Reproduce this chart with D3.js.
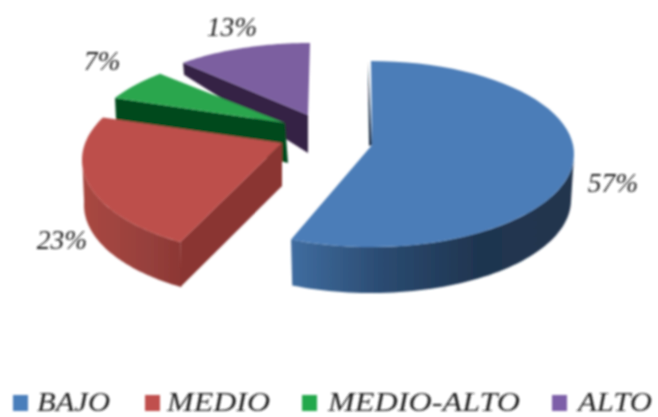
<!DOCTYPE html>
<html><head><meta charset="utf-8">
<script src="https://cdn.jsdelivr.net/npm/d3@7"></script>
<style>html,body{margin:0;padding:0;background:#fff}svg{display:block}
text{font-family:"Liberation Serif",serif;font-style:italic;fill:#1f1f1f}</style>
</head><body><div id="c"></div>
<script>
const categories = ["BAJO","MEDIO","MEDIO-ALTO","ALTO"];
const values = [57,23,7,13];
const tickLabels = ["57%","23%","7%","13%"];

const W=658,H=417;
const rad=d=>d*Math.PI/180;
// projection of each exploded slice; d0/d1 = perspective correction of the slice's rim angles
const geo=[
 {cx:371,cy:154,rx:203,ry:93,ax:372,ay:145,d0:0,d1:-2,depth:46,apexDepth:0,top:"#4b7db8",wallStops:["#3f6c9f","#2a4a70","#1f3550","#22344e"],inner:"#1d2f47"},
 {cx:280,cy:160,rx:198,ry:95,ax:282,ay:143,d0:5,d1:8.6,depth:45,apexDepth:43,top:"#bd4f4b",wallStops:["#a8473f","#a0443f","#96403c","#8c3633"],inner:"#8a3432"},
 {cx:285,cy:148,rx:200,ry:95,ax:285,ay:123,d0:13.8,d1:8.1,depth:22,apexDepth:40,top:"#29a64e",inner:"#034a1e"},
 {cx:310,cy:130,rx:200,ry:87,ax:308,ay:115,d0:7.4,d1:0,depth:12,apexDepth:38,top:"#7b5fa0",inner:"#352344"}
];
const swatch=["#4a7ebb","#c0504d","#22a84c","#7d5fa8"];
const legendX=[13,145,302,552], legendTextX=[37,167,328,578], legendLen=[73,103,192,74];
const labelPos=[[613,192],[62,249],[102,70],[232,36]];

const arcs=d3.pie().sort(null).startAngle(0).endAngle(2*Math.PI)(values);
const svg=d3.select("#c").append("svg").attr("width",W).attr("height",H);
const defs=svg.append("defs");
defs.append("filter").attr("id","soft").attr("x","-5%").attr("y","-5%").attr("width","110%").attr("height","110%")
  .append("feGaussianBlur").attr("stdDeviation",0.85);
const root=svg.append("g").attr("filter","url(#soft)");
const line=d3.line();

function rim(g,a0,a1,off,shrink){
  const n=60;
  return d3.range(n+1).map(i=>{
    const t=a0+(a1-a0)*i/n;
    return [g.cx+(g.rx-(shrink||0))*Math.sin(t), g.cy+off-g.ry*Math.cos(t)];
  });
}
[3,2,1,0].forEach(i=>{
  const g=geo[i],a=arcs[i];
  const start=a.startAngle+rad(g.d0), end=a.endAngle+rad(g.d1);
  const top=rim(g,start,end,0);
  const grp=root.append("g");
  const p=top[0];
  if(i===0){
    grp.append("path").attr("fill",g.inner).attr("d",line([[p[0]-3,p[1]+1],[g.ax,g.ay],[g.ax-3,g.ay+1]])+"Z");
  }else if(i===1){
    grp.append("path").attr("fill",g.inner).attr("d",line([[g.ax,g.ay],p,[p[0],p[1]+g.depth],[g.ax,g.ay+g.apexDepth]])+"Z");
  }else{
    grp.append("path").attr("fill",g.inner).attr("d",line([p,[g.ax,g.ay],[g.ax+(i===2?3:0),g.ay+g.apexDepth-(i===2?0:0)],[p[0]+1,p[1]+g.depth]])+"Z");
  }
  if(i<2){
    const s=i===0?rad(92):start, e=i===0?end:rad(272);
    const up=rim(g,s,e,0), low=rim(g,s,e,g.depth,i===0?3:2);
    const id="w"+i;
    const lg=defs.append("linearGradient").attr("id",id).attr("gradientUnits","userSpaceOnUse")
      .attr("x1",low[low.length-1][0]).attr("x2",low[0][0]).attr("y1",0).attr("y2",0);
    g.wallStops.forEach((c,k)=>lg.append("stop").attr("offset",k/(g.wallStops.length-1)).attr("stop-color",c));
    grp.append("path").attr("fill",`url(#${id})`).attr("d",line(up.concat(low.reverse()))+"Z");
  }
  grp.append("path").attr("fill",g.top).attr("d",line([[g.ax,g.ay]].concat(top))+"Z");
});
tickLabels.forEach((t,i)=>root.append("text").attr("x",labelPos[i][0]).attr("y",labelPos[i][1])
  .attr("text-anchor","middle").attr("font-size",27.5).text(t));
categories.forEach((c,i)=>{
  root.append("rect").attr("x",legendX[i]).attr("y",395).attr("width",15).attr("height",16).attr("fill",swatch[i]);
  root.append("text").attr("x",legendTextX[i]).attr("y",411).attr("font-size",27)
    .attr("textLength",legendLen[i]).attr("lengthAdjust","spacingAndGlyphs").text(c);
});
</script></body></html>
